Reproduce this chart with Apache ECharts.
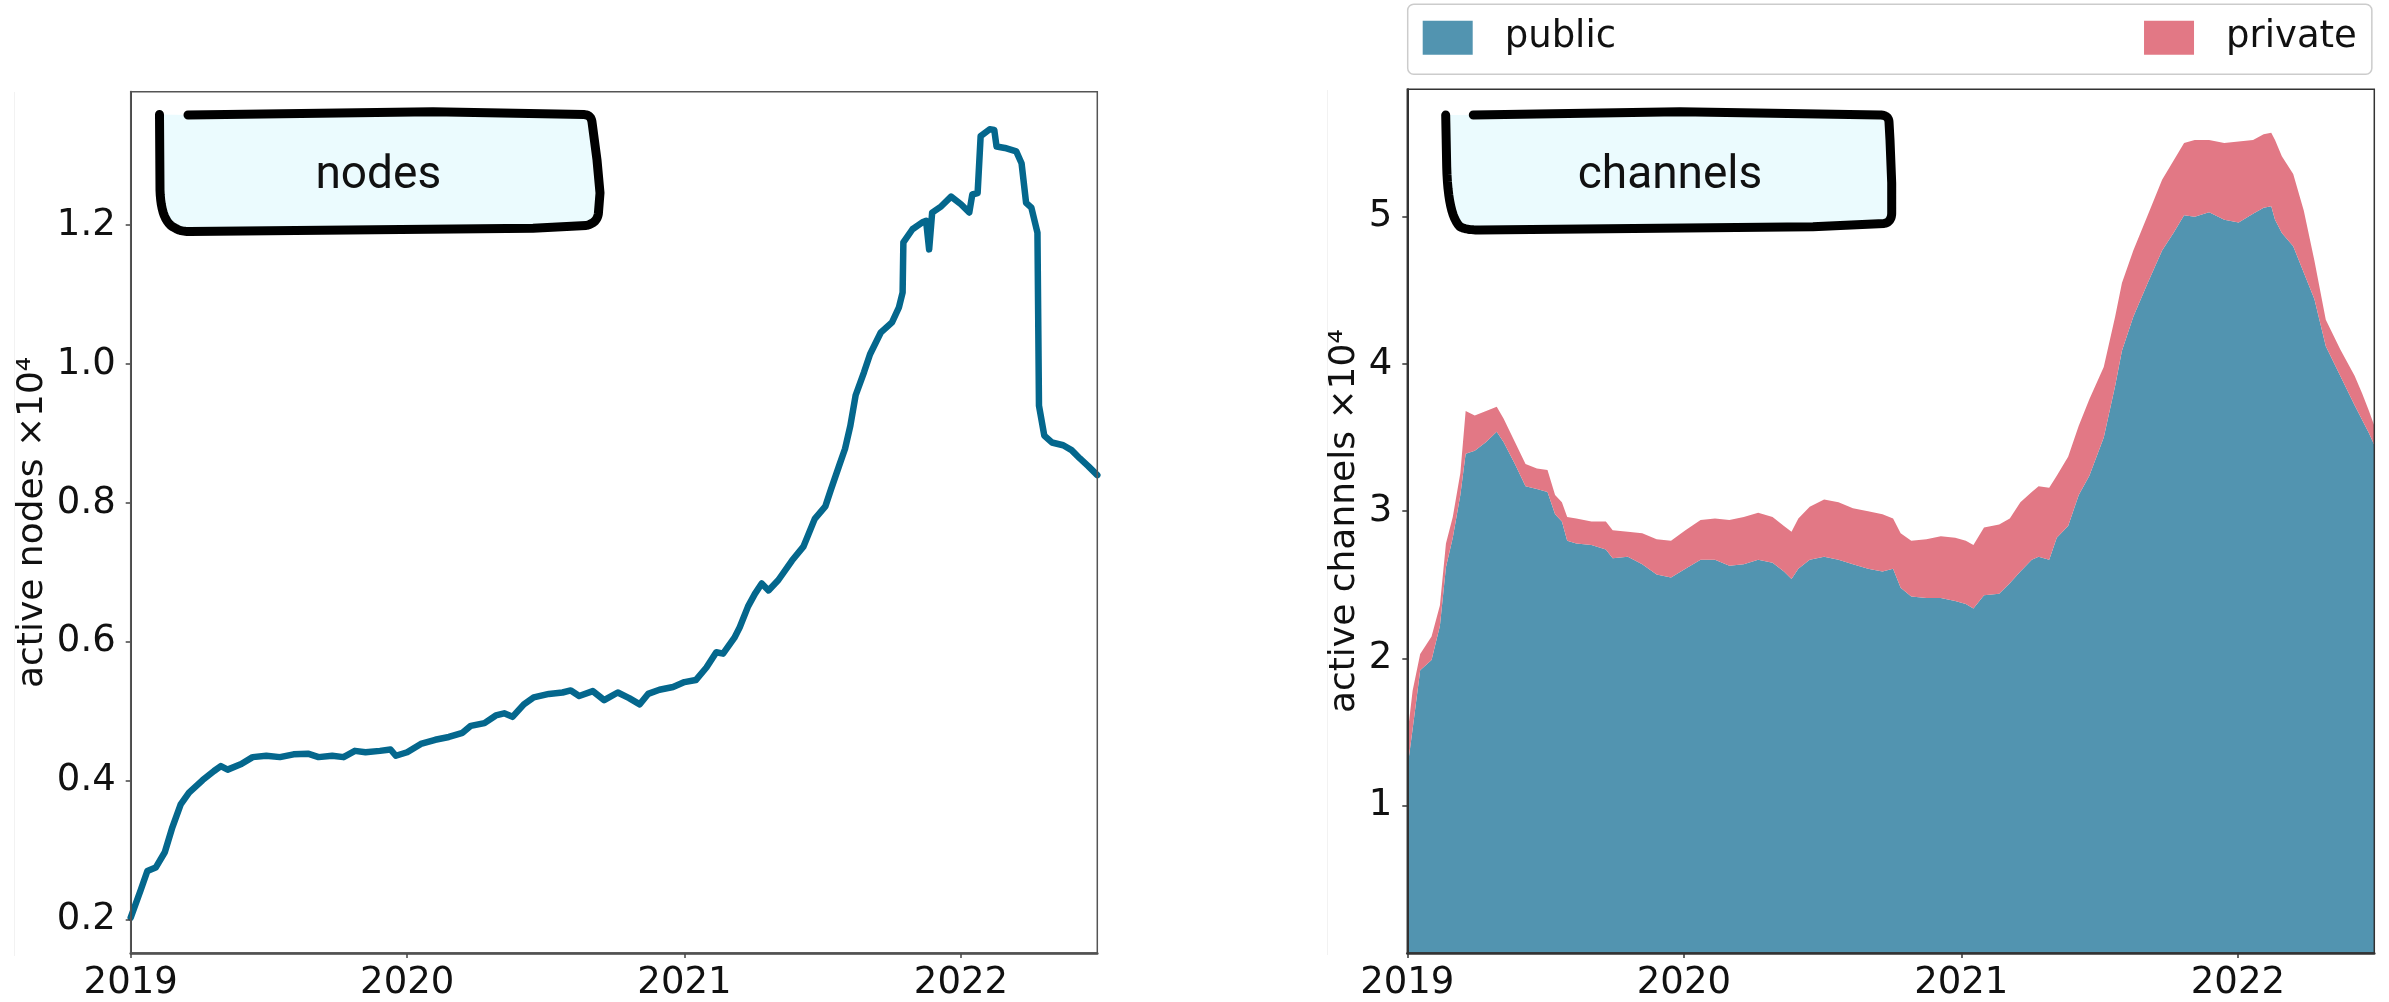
<!DOCTYPE html>
<html>
<head>
<meta charset="utf-8">
<title>Lightning network: active nodes and channels</title>
<script src="https://cdn.jsdelivr.net/npm/echarts@6.0.0/dist/echarts.min.js"></script>
<style>
  html, body { margin: 0; padding: 0; background: #ffffff; }
  #chart { width: 2389px; height: 1002px; }
</style>
</head>
<body>
<div id="chart"></div>
<script>
// ---- data -------------------------------------------------------------
// active nodes, in units of 10^4
const nodeDates = [
  '2019-01-01','2019-01-14','2019-01-23','2019-02-03','2019-02-15','2019-02-25','2019-03-08','2019-03-19',
  '2019-04-06','2019-04-21','2019-04-30','2019-05-09','2019-05-27','2019-06-11','2019-06-29','2019-07-17',
  '2019-08-04','2019-08-23','2019-09-06','2019-09-24','2019-10-09','2019-10-24','2019-11-07','2019-11-26',
  '2019-12-10','2019-12-17','2020-01-01','2020-01-19','2020-02-07','2020-02-25','2020-03-14','2020-03-25',
  '2020-04-12','2020-04-27','2020-05-08','2020-05-19','2020-06-03','2020-06-16','2020-07-06','2020-07-24',
  '2020-08-04','2020-08-15','2020-09-02','2020-09-17','2020-10-05','2020-10-20','2020-11-03','2020-11-14',
  '2020-11-29','2020-12-17','2021-01-01','2021-01-16','2021-01-30','2021-02-12','2021-02-21','2021-03-08',
  '2021-03-15','2021-03-26','2021-04-04','2021-04-13','2021-04-22','2021-05-05','2021-05-23','2021-06-07',
  '2021-06-22','2021-07-06','2021-07-13','2021-07-24','2021-08-01','2021-08-08','2021-08-15','2021-08-26',
  '2021-09-03','2021-09-17','2021-10-02','2021-10-11','2021-10-16','2021-10-17','2021-10-29','2021-11-11',
  '2021-11-16','2021-11-20','2021-11-24','2021-12-06','2021-12-19','2022-01-01','2022-01-12','2022-01-16',
  '2022-01-23','2022-01-27','2022-02-08','2022-02-14','2022-02-17','2022-02-28','2022-03-15','2022-03-22',
  '2022-03-28','2022-04-04','2022-04-12','2022-04-14','2022-04-21','2022-05-01','2022-05-16','2022-05-27',
  '2022-06-07','2022-06-18','2022-06-30'
];
const nodeValues = [
  0.203,0.242,0.270,0.275,0.297,0.333,0.366,0.383,
  0.401,0.414,0.421,0.416,0.424,0.434,0.436,0.434,
  0.438,0.439,0.434,0.436,0.434,0.443,0.441,0.443,
  0.445,0.436,0.441,0.453,0.459,0.463,0.469,0.479,
  0.483,0.494,0.497,0.492,0.510,0.520,0.525,0.527,
  0.530,0.522,0.529,0.516,0.527,0.519,0.510,0.525,
  0.531,0.535,0.542,0.545,0.563,0.585,0.583,0.606,
  0.621,0.651,0.669,0.684,0.674,0.689,0.717,0.737,
  0.777,0.795,0.818,0.853,0.878,0.911,0.955,0.988,
  1.014,1.045,1.060,1.081,1.103,1.175,1.194,1.204,
  1.206,1.165,1.218,1.227,1.241,1.230,1.218,1.244,
  1.246,1.328,1.338,1.337,1.313,1.311,1.306,1.289,
  1.232,1.225,1.189,0.940,0.897,0.887,0.883,0.876,
  0.864,0.853,0.840
];

// active channels, in units of 10^4 (public + private, stacked)
const channelDates = [
  '2019-01-01','2019-01-08','2019-01-18','2019-02-02','2019-02-13','2019-02-21','2019-03-02','2019-03-12',
  '2019-03-19','2019-03-31','2019-04-15','2019-04-29','2019-05-08','2019-05-23','2019-06-06','2019-06-21',
  '2019-07-05','2019-07-15','2019-07-24','2019-07-31','2019-08-12','2019-09-01','2019-09-20','2019-09-29',
  '2019-10-19','2019-11-07','2019-11-26','2019-12-15','2020-01-03','2020-01-23','2020-02-11','2020-03-01',
  '2020-03-20','2020-04-08','2020-04-27','2020-05-12','2020-05-22','2020-05-31','2020-06-15','2020-07-04',
  '2020-07-23','2020-08-11','2020-08-31','2020-09-19','2020-10-03','2020-10-13','2020-10-27','2020-11-16',
  '2020-12-05','2020-12-24','2021-01-07','2021-01-17','2021-01-31','2021-02-20','2021-03-06','2021-03-20',
  '2021-04-04','2021-04-13','2021-04-27','2021-05-07','2021-05-22','2021-06-05','2021-06-19','2021-07-08',
  '2021-07-23','2021-08-01','2021-08-16','2021-09-04','2021-09-23','2021-10-08','2021-10-22','2021-11-05',
  '2021-11-24','2021-12-14','2022-01-02','2022-01-21','2022-02-04','2022-02-14','2022-02-19','2022-02-28',
  '2022-03-15','2022-03-29','2022-04-12','2022-04-27','2022-05-16','2022-06-04','2022-06-14','2022-06-23',
  '2022-06-30'
];
const publicValues = [
  1.25,1.52,1.92,1.99,2.22,2.62,2.82,3.11,
  3.39,3.41,3.47,3.54,3.47,3.32,3.17,3.15,
  3.13,2.98,2.93,2.80,2.78,2.77,2.74,2.68,
  2.69,2.64,2.57,2.55,2.61,2.67,2.67,2.63,
  2.64,2.67,2.65,2.59,2.54,2.61,2.67,2.69,
  2.67,2.64,2.61,2.59,2.61,2.48,2.42,2.41,
  2.41,2.39,2.37,2.34,2.43,2.44,2.51,2.59,
  2.67,2.69,2.67,2.82,2.90,3.11,3.24,3.50,
  3.85,4.09,4.32,4.55,4.77,4.89,5.01,5.00,
  5.03,4.98,4.96,5.02,5.06,5.07,4.98,4.89,
  4.80,4.62,4.44,4.12,3.92,3.72,3.62,3.53,
  3.45
];
const privateValues = [
  0.22,0.26,0.11,0.16,0.14,0.16,0.14,0.15,
  0.29,0.24,0.21,0.17,0.16,0.15,0.15,0.14,
  0.15,0.13,0.13,0.16,0.17,0.16,0.19,0.19,
  0.17,0.21,0.24,0.25,0.26,0.27,0.28,0.31,
  0.32,0.32,0.31,0.31,0.32,0.34,0.36,0.39,
  0.39,0.38,0.39,0.39,0.34,0.37,0.38,0.40,
  0.42,0.43,0.43,0.43,0.46,0.47,0.44,0.47,
  0.46,0.48,0.49,0.42,0.47,0.47,0.52,0.48,
  0.47,0.46,0.45,0.46,0.48,0.49,0.49,0.52,
  0.49,0.52,0.55,0.50,0.50,0.50,0.54,0.52,
  0.49,0.42,0.26,0.18,0.18,0.20,0.18,0.15,
  0.13
];

// axis ticks
const yearTicks = ['2019-01-01', '2020-01-01', '2021-01-01', '2022-01-01'];
const nodeTicks = [0.2, 0.4, 0.6, 0.8, 1.0, 1.2];
const channelTicks = [1, 2, 3, 4, 5];
const dateRange = ['2019-01-01', '2022-06-30'];

// ---- styling ------------------------------------------------------------
const FONT = 'DejaVu Sans';
const NODE_COLOR = '#04678d';
const PUBLIC_COLOR = '#5294b0';
const PRIVATE_COLOR = '#e27885';
const BOX_FILL = '#ebfbfe';

// dates become local-time millisecond stamps on a numeric x axis
function toTime(s) {
  const p = s.split('-').map(Number);
  return new Date(p[0], p[1] - 1, p[2]).getTime();
}
const pair = (dates, vals) => dates.map((d, i) => [toTime(d), vals[i]]);
// value first, date second: the stack then sums the value column
const valueFirst = (dates, vals) => dates.map((d, i) => [vals[i], toTime(d)]);
const yearTickTimes = yearTicks.map(toTime);

function dateAxis(gridIndex, spine) {
  return {
    type: 'value',
    gridIndex: gridIndex,
    min: toTime(dateRange[0]),
    max: toTime(dateRange[1]),
    z: 5,
    axisLine: { show: true, onZero: false, lineStyle: { color: spine, width: 2.5 } },
    axisTick: { show: true, customValues: yearTickTimes, length: 5, lineStyle: { color: spine, width: 1.5 } },
    axisLabel: {
      customValues: yearTickTimes,
      margin: 12,
      fontFamily: FONT, fontSize: 37, color: '#111',
      formatter: v => String(new Date(v).getFullYear())
    },
    splitLine: { show: false }
  };
}

function valueAxis(gridIndex, min, max, ticks, fmt, name, gap, spine) {
  return {
    type: 'value',
    gridIndex: gridIndex,
    min: min, max: max,
    z: 5,
    name: name,
    nameLocation: 'middle',
    nameGap: gap,
    nameTextStyle: { fontFamily: FONT, fontSize: 36, color: '#111' },
    axisLine: { show: true, onZero: false, lineStyle: { color: spine, width: 2 } },
    axisTick: { show: true, customValues: ticks, length: 5, lineStyle: { color: spine, width: 1.5 } },
    axisLabel: {
      customValues: ticks, margin: 15,
      fontFamily: FONT, fontSize: 37, color: '#111',
      formatter: fmt
    },
    splitLine: { show: false }
  };
}

// hand-drawn label frames: straight runs and rounded corners (M / L / Q commands)
const nodesFrame = 'M159.5,114.5 L160,190 Q161,222 175,228 Q180,231.5 190,231.5 L533,228.3 L586,225.5 ' +
  'Q598,223 598.5,212 L600,193 L597,160 L592,122 Q591,114.8 584,114.6 L433,111.7 L188,115';
const channelsFrame = 'M1445.7,115 L1446.7,166.7 Q1448,215 1460,226.7 Q1466,230 1480,230 L1813,226.7 ' +
  'L1884,223.5 Q1892,222 1891.7,212 L1891.7,183 L1890,140 L1889,122 Q1888.5,115 1880,115 L1680,111.7 L1473.3,115';

// turn the M/L/Q outline into a point list (curves sampled)
function outlinePoints(d) {
  const tokens = d.match(/[MLQ]|-?\d*\.?\d+/g);
  const pts = [];
  let i = 0, cmd = null, cur = [0, 0];
  while (i < tokens.length) {
    if (/[MLQ]/.test(tokens[i])) { cmd = tokens[i]; i++; continue; }
    if (cmd === 'M' || cmd === 'L') {
      cur = [+tokens[i], +tokens[i + 1]]; i += 2;
      pts.push(cur);
    } else if (cmd === 'Q') {
      const c = [+tokens[i], +tokens[i + 1]], e = [+tokens[i + 2], +tokens[i + 3]]; i += 4;
      for (let k = 1; k <= 12; k++) {
        const t = k / 12, u = 1 - t;
        pts.push([u * u * cur[0] + 2 * u * t * c[0] + t * t * e[0],
                  u * u * cur[1] + 2 * u * t * c[1] + t * t * e[1]]);
      }
      cur = e;
    }
  }
  return pts;
}

function frame(d) {
  const pts = outlinePoints(d);
  return [
    { type: 'polygon', z: 20, shape: { points: pts }, style: { fill: BOX_FILL, stroke: null } },
    { type: 'polyline', z: 21, shape: { points: pts },
      style: { fill: null, stroke: '#000', lineWidth: 9, lineCap: 'round', lineJoin: 'round' } }
  ];
}

const chart = echarts.init(document.getElementById('chart'), null, { renderer: 'canvas' });

chart.setOption({
  animation: false,
  backgroundColor: '#ffffff',
  grid: [
    { left: 130.7, top: 91.7, width: 966.6, height: 864.3, show: true, z: 10,
      backgroundColor: 'transparent', borderColor: '#555', borderWidth: 1.5 },
    { left: 1407.3, top: 89.3, width: 967, height: 865.4, show: true, z: 10,
      backgroundColor: 'transparent', borderColor: '#333', borderWidth: 1.5 }
  ],
  legend: {
    left: 1407.7, top: 4.3,
    orient: 'horizontal',
    padding: [15, 15, 18, 15],
    itemWidth: 50, itemHeight: 34,
    itemGap: 528,
    backgroundColor: '#ffffff',
    borderColor: '#cccccc', borderWidth: 1.5, borderRadius: 6,
    textStyle: { fontFamily: FONT, fontSize: 37, color: '#111', padding: [0, 0, 0, 27], lineHeight: 34 },
    data: [
      { name: 'public', icon: 'rect', itemStyle: { color: PUBLIC_COLOR } },
      { name: 'private', icon: 'rect', itemStyle: { color: PRIVATE_COLOR } }
    ]
  },
  xAxis: [ dateAxis(0, '#444'), dateAxis(1, '#333') ],
  yAxis: [
    valueAxis(0, 0.152, 1.392, nodeTicks, v => v.toFixed(1), 'active nodes ×10⁴', 80, '#444'),
    valueAxis(1, 0, 5.865, channelTicks, v => String(v), 'active channels ×10⁴', 45, '#333')
  ],
  series: [
    {
      name: 'nodes', type: 'line', xAxisIndex: 0, yAxisIndex: 0,
      data: pair(nodeDates, nodeValues),
      showSymbol: false, symbol: 'none',
      lineStyle: { color: NODE_COLOR, width: 6.5, join: 'round', cap: 'round' },
      itemStyle: { color: NODE_COLOR }
    },
    {
      name: 'public', type: 'line', xAxisIndex: 1, yAxisIndex: 1, stack: 'channels',
      data: valueFirst(channelDates, publicValues),
      encode: { x: 1, y: 0 },
      showSymbol: false, symbol: 'none',
      lineStyle: { width: 0, opacity: 0 },
      areaStyle: { color: PUBLIC_COLOR, opacity: 1 },
      itemStyle: { color: PUBLIC_COLOR }
    },
    {
      name: 'private', type: 'line', xAxisIndex: 1, yAxisIndex: 1, stack: 'channels',
      data: valueFirst(channelDates, privateValues),
      encode: { x: 1, y: 0 },
      showSymbol: false, symbol: 'none',
      lineStyle: { width: 0, opacity: 0 },
      areaStyle: { color: PRIVATE_COLOR, opacity: 1 },
      itemStyle: { color: PRIVATE_COLOR }
    }
  ],
  graphic: [
    // faint panel edges at the far left of each panel
    { type: 'line', z: 1, shape: { x1: 14.5, y1: 92, x2: 14.5, y2: 956 }, style: { stroke: '#f2f2f2', lineWidth: 1 } },
    { type: 'line', z: 1, shape: { x1: 1327.5, y1: 90, x2: 1327.5, y2: 955 }, style: { stroke: '#f2f2f2', lineWidth: 1 } },
    ...frame(nodesFrame),
    ...frame(channelsFrame),
    { type: 'text', z: 22, x: 378.3, y: 176,
      style: { text: 'nodes', font: '46px Roboto', fill: '#111', textAlign: 'center', textVerticalAlign: 'middle' } },
    { type: 'text', z: 22, x: 1670, y: 176,
      style: { text: 'channels', font: '46px Roboto', fill: '#111', textAlign: 'center', textVerticalAlign: 'middle' } }
  ]
});
</script>
</body>
</html>
